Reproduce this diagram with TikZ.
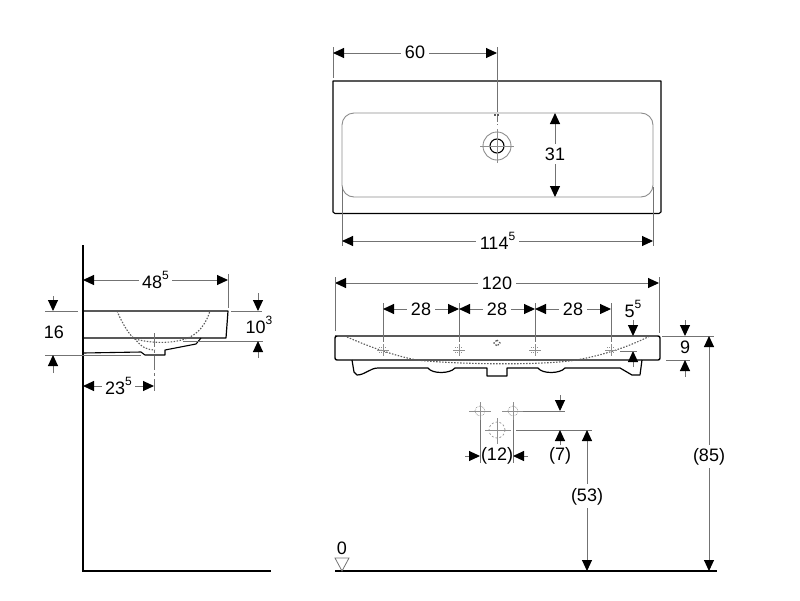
\documentclass[tikz,border=0pt]{standalone}
\usepackage{fontspec}
\setmainfont{Liberation Sans}
\usetikzlibrary{arrows.meta}
\definecolor{dimgray}{gray}{0.45}
\definecolor{bowlgray}{gray}{0.55}
\newcommand{\hsup}[1]{\raisebox{0.5em}{\fontsize{12}{12}\selectfont #1}}
\newcommand{\fcross}[2]{%
  \draw[faint] (#1-11,#2) -- (#1+11,#2) (#1,#2-9) -- (#1,#2+9);
  \draw[faint,densely dotted] (#1,#2) circle (5);
}
\tikzset{
  tip/.tip={Triangle[black,length=11pt,width=10pt]},
  dimboth/.style={draw=dimgray,line width=1pt,tip-tip},
  dimone/.style={draw=dimgray,line width=1pt,-tip},
  ext/.style={draw=dimgray,line width=.9pt},
  body/.style={draw=black,line width=1.1pt,line join=round},
  heavy/.style={draw=black,line width=1.4pt},
  bowl/.style={draw=bowlgray,line width=.9pt},
  hidden/.style={draw=dimgray!80!black,line width=1.1pt,dash pattern=on 1.5pt off 1.5pt},
  faint/.style={draw=dimgray!80,line width=.7pt},
  lab/.style={fill=white,inner sep=3.5pt,font=\fontsize{18}{18}\selectfont},
}
\begin{document}
\begin{tikzpicture}[x=1pt,y=-1pt]
\useasboundingbox (0,0) rectangle (800,600);
% ---------- top view
\draw[body] (333,81) -- (661,81) -- (661,212) -- (659,213.5) -- (335,213.5) -- (333,212) -- cycle;
\draw[bowl,rounded corners=12pt] (342,113) rectangle (653,197);
\draw[ext] (333,47) -- (333,78);
\draw[ext] (497,47) -- (497,112);
\draw[ext,dash pattern=on 6pt off 2pt] (497,116) -- (497,125);
\draw[hidden] (494,115) -- (500,115);
\draw[dimboth] (333,53) -- node[lab,yshift=1pt] (t60) {60} (497,53);
\draw[bowl] (497,146) circle (14);
\draw[draw=black,line width=1.1pt] (497,146) circle (7);
\draw[faint] (480,146) -- (514,146) (497,129) -- (497,163);
\draw[dimboth] (555,113) -- node[lab,pos=.49] (t31) {31} (555,197);
\draw[ext] (342,187) -- (342,246);
\draw[ext] (653,187) -- (653,246);
\draw[dimboth] (342,241) -- node[lab] (t114) {114\hsup{5}} (653,241);
% ---------- side view
\draw[heavy] (83,245) -- (83,571) -- (271,571);
\draw[body,line width=1.2pt] (83,311) -- (228,311) -- (226,338) -- (83,338);
\draw[body] (83,353) -- (141,352) -- (145,355) -- (165,355) -- (165,350) -- (196,344) -- (201,338);
\draw[hidden] (117,311) .. controls (123,325) and (130,336) .. (135,339) .. controls (142,348) and (148,350) .. (155,350);
\draw[hidden] (135,339) .. controls (150,343) and (170,344) .. (185,339) .. controls (198,335) and (206,324) .. (210,311);
\draw[ext] (231,311) -- (262,311);
\draw[ext] (183,341) -- (263,341);
\draw[ext] (45,311) -- (78,311);
\draw[ext] (45,355) -- (141,355);
\draw[ext] (228,274) -- (228,308);
\draw[dimboth] (83,280) -- node[lab] (t48) {48\hsup{5}} (228,280);
\draw[dimone] (53,296) -- (53,311);
\draw[dimone] (53,373) -- (53,355);
\node[lab,fill=none] (t16) at (54,332) {16};
\draw[dimone] (258,293) -- (258,311);
\draw[dimone] (258,358) -- (258,341);
\node[lab,fill=none] (t10) at (259,325) {10\hsup{3}};
\draw[ext,dash pattern=on 14pt off 3pt on 3pt off 3pt] (154,333) -- (154,391);
\draw[dimboth] (83,386) -- node[lab] (t23) {23\hsup{5}} (154,386);
% ---------- front view
\draw[dimboth] (335,283) -- node[lab] (t120) {120} (659,283);
\draw[ext] (335,277) -- (335,331);
\draw[ext] (659.5,277) -- (659.5,333);
\draw[heavy,rounded corners=2pt] (337,336) -- (335,336) -- (335,360) -- (660,360) -- (660,336) -- cycle;
\draw[body,line width=1.2pt] (352,360) -- (354,372) -- (357,375) .. controls (365,375) and (370,368) .. (378,368) -- (428,368) .. controls (432,374) and (450,374) .. (455,368) -- (487,368) -- (487,376) -- (507,376) -- (507,368) -- (538,368) .. controls (542,374) and (560,374) .. (565,368) -- (620,368) -- (632,375) -- (640,375) -- (642,360);
\draw[hidden] (347,337) .. controls (370,347) and (395,356) .. (417,360) .. controls (450,364) and (540,366) .. (576,360) .. controls (605,355) and (630,346) .. (650,336);
\foreach \xx/\nm in {383/a,459/b,535/c,611/d}{
  \draw[ext] (\xx,303) -- (\xx,342);
  \draw[faint] (\xx-6,350) -- (\xx+6,350) (\xx,344) -- (\xx,356);
  \draw[faint,line width=1pt,densely dotted] (\xx-4,347.5) -- (\xx+4,347.5) (\xx-4,352.5) -- (\xx+4,352.5);
}
\draw[dimboth] (383,309) -- node[lab] (t28a) {28} (459,309);
\draw[dimboth] (459,309) -- node[lab] (t28b) {28} (535,309);
\draw[dimboth] (535,309) -- node[lab] (t28c) {28} (611,309);
\draw[hidden] (497,340) -- (500,343) -- (497,346) -- (494,343) -- cycle;
\node[lab,fill=none] (t55) at (633,309) {5\hsup{5}};
\draw[dimone] (633,320) -- (633,336);
\draw[dimone] (633,367) -- (633,351);
\draw[ext] (620,351) -- (637,351);
\draw[ext] (662,336) -- (714,336);
\draw[ext] (666,360) -- (690,360);
\draw[dimone] (685,320) -- (685,336);
\draw[dimone] (685,377) -- (685,360);
\node[lab,fill=none] (t9) at (685,347) {9};
\draw[dimboth] (709,336) -- node[lab,pos=.5,yshift=-3pt] (t85) {(85)} (709,571);
% ---------- lower detail
\fcross{480}{411}
\fcross{513}{411}
\draw[faint] (485,430) -- (511,430) (497,418) -- (497,444);
\draw[faint,dash pattern=on 2pt off 2pt] (497,430) circle (8);
\draw[ext] (523,411) -- (565,411);
\draw[ext] (516,430) -- (592,430);
\draw[ext] (480,420) -- (480,463);
\draw[ext] (513,420) -- (513,463);
\draw[dimone] (465,456) -- (480,456);
\draw[dimone] (528,456) -- (513,456);
\node[lab,fill=none] (t12) at (497,456) {(12)};
\draw[dimone] (560,395) -- (560,411);
\draw[dimone] (560,445) -- (560,430);
\node[lab,fill=none] (t7) at (560,456) {(7)};
\draw[dimboth] (587,430) -- node[lab,pos=.46,yshift=-1.5pt] (t53) {(53)} (587,571);
% ---------- floor
\draw[heavy] (335,571) -- (717,571);
\node[lab,fill=none] (t0) at (342,548) {0};
\draw[draw=dimgray,line width=.8pt] (335,558) -- (349,558) -- (342,571) -- cycle;
\end{tikzpicture}
\end{document}
